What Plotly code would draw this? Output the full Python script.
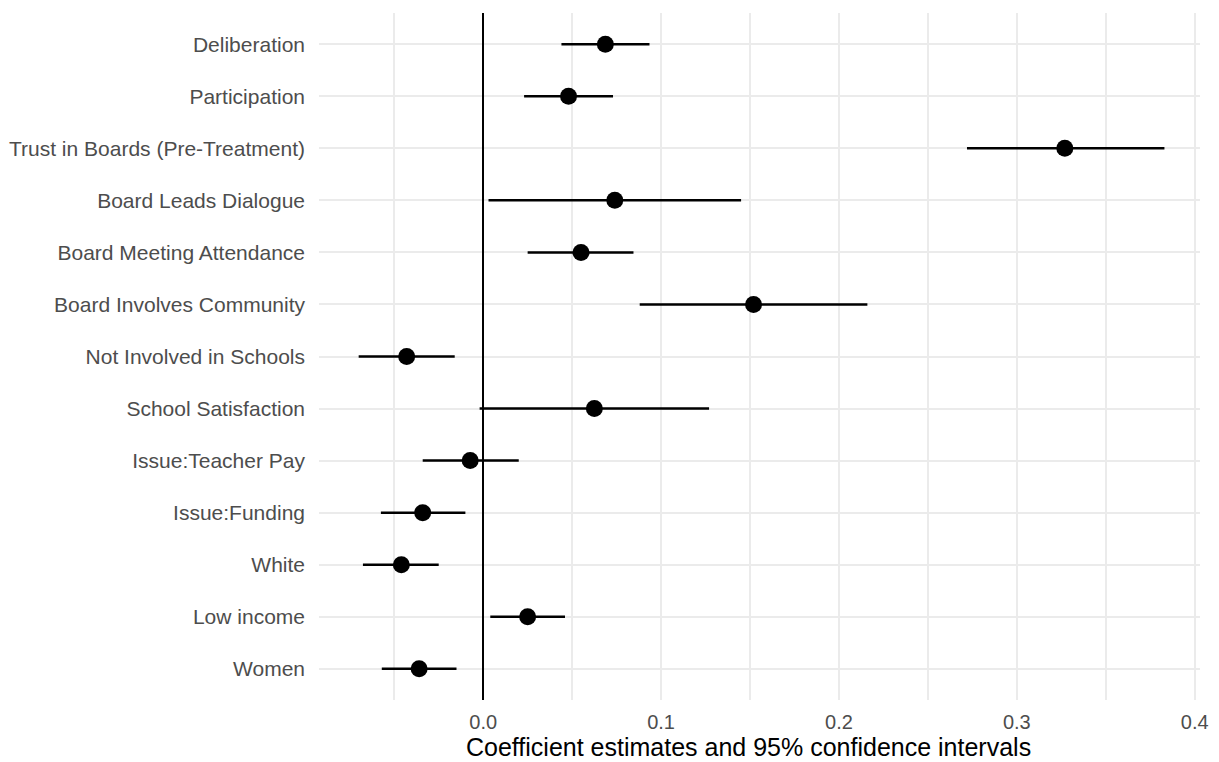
import plotly.graph_objects as go

categories = ["Deliberation", "Participation", "Trust in Boards (Pre-Treatment)",
              "Board Leads Dialogue", "Board Meeting Attendance", "Board Involves Community",
              "Not Involved in Schools", "School Satisfaction", "Issue:Teacher Pay",
              "Issue:Funding", "White", "Low income", "Women"]
estimate = [0.0687, 0.048, 0.327, 0.074, 0.055, 0.152, -0.043, 0.0625, -0.0073,
            -0.034, -0.046, 0.025, -0.036]
ci_low = [0.044, 0.023, 0.272, 0.003, 0.025, 0.088, -0.070, -0.002, -0.034,
          -0.0575, -0.0676, 0.004, -0.057]
ci_high = [0.0935, 0.073, 0.383, 0.145, 0.0845, 0.216, -0.016, 0.127, 0.020,
           -0.010, -0.025, 0.046, -0.015]
x_ticks = [0.0, 0.1, 0.2, 0.3, 0.4]
x_ticklabels = ["0.0", "0.1", "0.2", "0.3", "0.4"]
x_title = "Coefficient estimates and 95% confidence intervals"

fig = go.Figure()
fig.add_trace(go.Scatter(
    x=estimate, y=categories, mode="markers",
    marker=dict(color="black", size=17),
    error_x=dict(type="data", symmetric=False,
                 array=[h - e for h, e in zip(ci_high, estimate)],
                 arrayminus=[e - l for e, l in zip(estimate, ci_low)],
                 color="black", thickness=2.5, width=0),
    showlegend=False,
))

fig.update_layout(
    width=1203, height=754,
    margin=dict(l=311, r=11, t=5, b=62),
    plot_bgcolor="white", paper_bgcolor="white",
    font=dict(family="Liberation Sans, Arial, sans-serif", size=21, color="#4d4d4d"),
)
fig.add_annotation(
    text=x_title, xref="paper", yref="paper", x=0.5, y=0,
    xanchor="center", yanchor="middle", xshift=-11, yshift=-47,
    showarrow=False, font=dict(size=25, color="black"),
)
fig.update_xaxes(
    range=[-0.0923, 0.403], automargin=False,
    tickvals=x_ticks, ticktext=x_ticklabels,
    showgrid=True, gridcolor="#ebebeb", gridwidth=1.6,
    minor=dict(tickvals=[-0.05, 0.05, 0.15, 0.25, 0.35], showgrid=True,
               gridcolor="#ebebeb", gridwidth=1.6),
    zeroline=True, zerolinecolor="black", zerolinewidth=2,
    showline=False, ticks="", ticklabelstandoff=8,
    tickfont=dict(size=20, color="#4d4d4d"),
)
fig.update_yaxes(
    categoryorder="array", categoryarray=categories,
    autorange=False, range=[len(categories) - 0.4, -0.6], automargin=False,
    showgrid=True, gridcolor="#ebebeb", gridwidth=1.6,
    ticks="", ticklabelstandoff=13,
    tickfont=dict(size=21, color="#4d4d4d"),
)
fig.write_html("out.html")
